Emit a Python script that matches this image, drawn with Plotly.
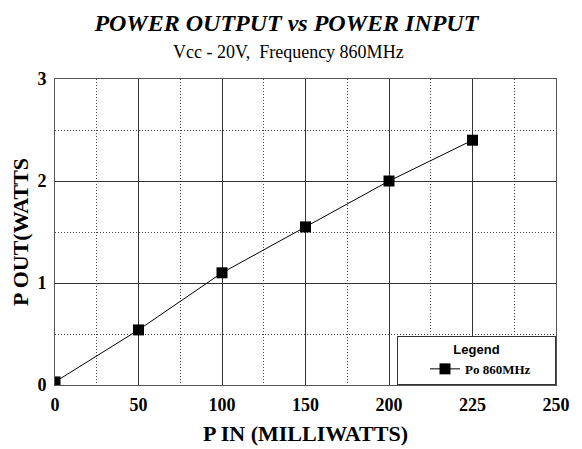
import plotly.graph_objects as go

x_labels = ["0", "50", "100", "150", "200", "225", "250"]
p_in = ["0", "50", "100", "150", "200", "225"]
p_out = [0.03, 0.54, 1.10, 1.55, 2.00, 2.40]
y_ticks = [0, 1, 2, 3]

x_pos = [x_labels.index(v) for v in p_in]

fig = go.Figure()
fig.add_trace(go.Scatter(
    x=x_pos, y=p_out, mode="lines+markers", name="Po 860MHz",
    line=dict(color="black", width=1),
    marker=dict(symbol="square", size=11, color="black"),
))

serif = "Liberation Serif, Times New Roman, serif"
fig.update_layout(
    width=574, height=441,
    margin=dict(l=47, r=26, t=71, b=64, autoexpand=False),
    paper_bgcolor="white", plot_bgcolor="white",
    font=dict(family=serif, color="black"),
    title=dict(
        text="<b><i>POWER OUTPUT vs POWER INPUT</i></b>",
        x=0.485, xanchor="center", y=0.966, yanchor="middle",
        font=dict(size=24, family=serif),
    ),
    annotations=[dict(
        text="Vcc - 20V,  Frequency 860MHz", xref="paper", yref="paper",
        x=0.466, y=1, yshift=27, showarrow=False, xanchor="center", yanchor="middle",
        font=dict(size=18, family=serif),
    )],
    showlegend=True,
    legend=dict(
        x=1, xanchor="right", y=0, yanchor="bottom",
        orientation="h",
        bgcolor="white", bordercolor="#333", borderwidth=1,
        title=dict(text="Legend", side="top center", font=dict(family="Liberation Sans, Arial", size=13)),
        font=dict(family=serif, size=13, weight="bold"),
        entrywidth=85, indentation=27,
    ),
)
fig.update_xaxes(
    range=[0, 6], tickmode="array", tickvals=list(range(len(x_labels))), ticktext=x_labels,
    tickfont=dict(size=18, family=serif, weight="bold"),
    showgrid=True, gridcolor="#333", gridwidth=1,
    minor=dict(dtick=0.5, tick0=0, showgrid=True, gridcolor="#444", griddash="1px,2px", gridwidth=1),
    showline=True, mirror=True, linecolor="#555", linewidth=1,
    ticks="", zeroline=False, automargin=False, ticklabelstandoff=3,
    title=dict(text="<b>P IN (MILLIWATTS)</b>", font=dict(size=22, family=serif), standoff=12),
)
fig.update_yaxes(
    range=[0, 3], tickmode="array", tickvals=y_ticks,
    tickfont=dict(size=18, family=serif, weight="bold"),
    showgrid=True, gridcolor="#333", gridwidth=1,
    minor=dict(dtick=0.5, tick0=0, showgrid=True, gridcolor="#444", griddash="1px,2px", gridwidth=1),
    showline=True, mirror=True, linecolor="#555", linewidth=1,
    ticks="", zeroline=False, ticklabelstandoff=4, automargin=False,
    title=dict(text="<b>P OUT(WATTS</b>", font=dict(size=22, family=serif), standoff=4),
)
fig.write_html("out.html")
